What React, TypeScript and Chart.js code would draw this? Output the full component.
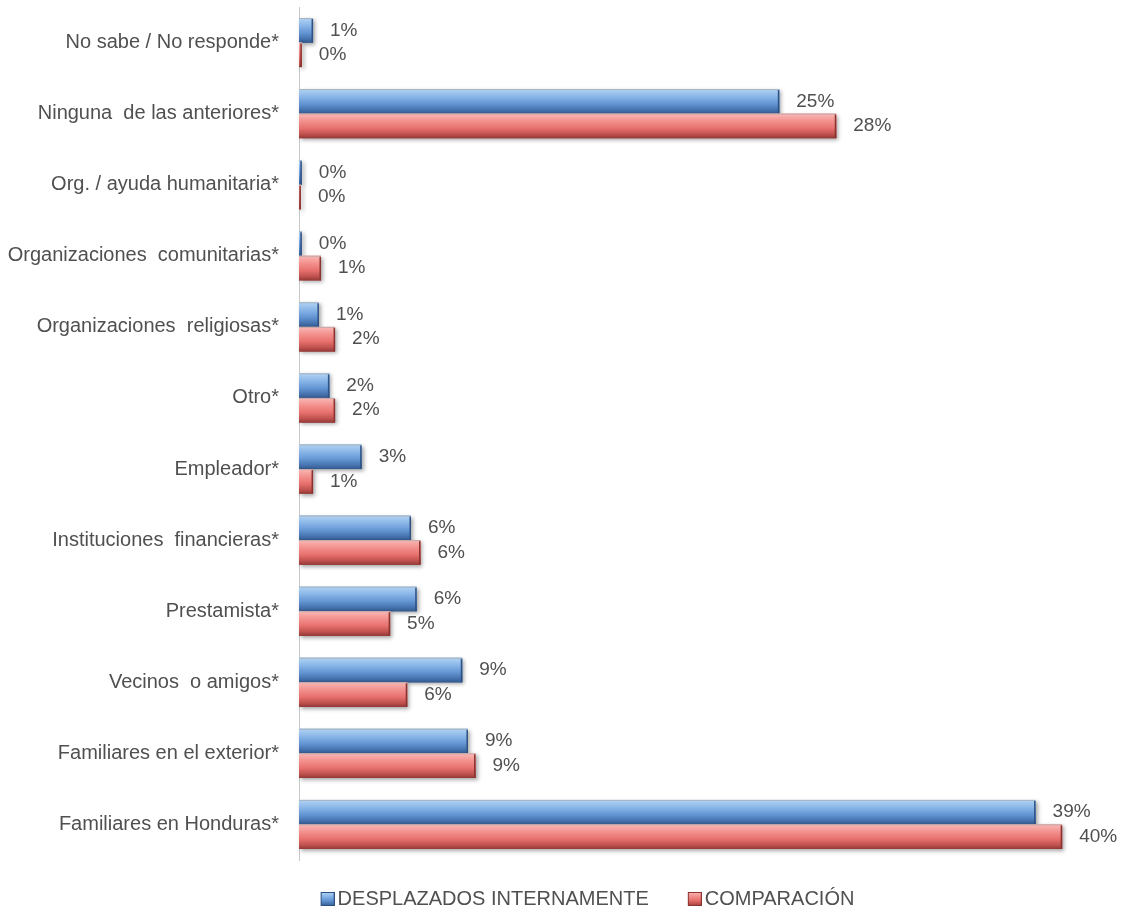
import React, { useEffect, useRef } from 'react';
import { Chart, registerables } from 'chart.js';

Chart.register(...registerables);

// ---- data ----
const categories = [
  'No sabe / No responde*',
  'Ninguna  de las anteriores*',
  'Org. / ayuda humanitaria*',
  'Organizaciones  comunitarias*',
  'Organizaciones  religiosas*',
  'Otro*',
  'Empleador*',
  'Instituciones  financieras*',
  'Prestamista*',
  'Vecinos  o amigos*',
  'Familiares en el exterior*',
  'Familiares en Honduras*',
];
const desplazados = [0.74, 25.3, 0.15, 0.15, 1.05, 1.6, 3.3, 5.9, 6.2, 8.6, 8.9, 38.8];
const comparacion = [0.15, 28.3, 0.1, 1.16, 1.9, 1.9, 0.74, 6.4, 4.8, 5.7, 9.3, 40.2];
const seriesNames = ['DESPLAZADOS INTERNAMENTE', 'COMPARACIÓN'];
const xMax = 43.3;

// ---- styles ----
const FONT = '"Liberation Sans", Arial, Helvetica, sans-serif';
const TEXT_COLOR = '#505050';
const gradients: Array<Array<[number, string]>> = [
  [
    [0, '#b3d4f3'],
    [0.3, '#8ab6e8'],
    [0.6, '#6496d4'],
    [0.85, '#4572ae'],
    [1, '#33598e'],
  ],
  [
    [0, '#f9b9b7'],
    [0.3, '#f3918e'],
    [0.6, '#e7706d'],
    [0.85, '#bd504d'],
    [1, '#933937'],
  ],
];
const solidColors = ['#6496d4', '#e7706d'];
const edgeColors = ['#2e5283', '#8a3331'];

function makeLegendImage(idx: number): HTMLCanvasElement {
  const c = document.createElement('canvas');
  c.width = 31;
  c.height = 14;
  const g = c.getContext('2d')!;
  const grad = g.createLinearGradient(0, 0, 0, 14);
  gradients[idx].forEach(([o, col]) => grad.addColorStop(o, col));
  g.fillStyle = grad;
  g.fillRect(17, 0, 14, 14);
  g.strokeStyle = edgeColors[idx];
  g.lineWidth = 1;
  g.strokeRect(17.5, 0.5, 13, 13);
  return c;
}

const barStylePlugin = {
  id: 'barStyle',
  afterDatasetsDraw(chart: any) {
    const ctx = chart.ctx as CanvasRenderingContext2D;
    chart.data.datasets.forEach((_ds: any, di: number) => {
      const meta = chart.getDatasetMeta(di);
      meta.data.forEach((el: any) => {
        const { x, y, base, height } = el.getProps(['x', 'y', 'base', 'height'], true);
        const left = Math.min(x, base);
        const w = Math.abs(x - base);
        const top = y - height / 2;
        const grad = ctx.createLinearGradient(0, top, 0, top + height);
        gradients[di].forEach(([o, col]) => grad.addColorStop(o, col));
        ctx.save();
        ctx.shadowColor = 'rgba(0,0,0,0.35)';
        ctx.shadowBlur = 4;
        ctx.shadowOffsetX = 2;
        ctx.shadowOffsetY = 2;
        ctx.fillStyle = grad;
        ctx.fillRect(left, top, w, height);
        ctx.restore();
        ctx.save();
        ctx.fillStyle = grad;
        ctx.fillRect(left, top, w, height);
        ctx.fillStyle = 'rgba(160,160,160,0.6)';
        ctx.fillRect(left, top, w, 1);
        ctx.fillStyle = edgeColors[di];
        ctx.fillRect(left + w - 1.5, top + 1, 1.5, height - 1);
        ctx.restore();
      });
    });
  },
};

const valueLabelPlugin = {
  id: 'valueLabels',
  afterDatasetsDraw(chart: any) {
    const ctx = chart.ctx as CanvasRenderingContext2D;
    ctx.save();
    ctx.font = `19px ${FONT}`;
    ctx.fillStyle = TEXT_COLOR;
    ctx.textAlign = 'left';
    ctx.textBaseline = 'middle';
    chart.data.datasets.forEach((ds: any, di: number) => {
      const meta = chart.getDatasetMeta(di);
      meta.data.forEach((el: any, i: number) => {
        const { x, y } = el.getProps(['x', 'y'], true);
        ctx.fillText(`${Math.round(ds.data[i])}%`, x + 17, y);
      });
    });
    ctx.restore();
  },
};

export default function App() {
  const ref = useRef<HTMLCanvasElement>(null);

  useEffect(() => {
    document.body.style.margin = '0';
    const canvas = ref.current!;
    const legendImgs = [makeLegendImage(0), makeLegendImage(1)];
    const chart = new Chart(canvas, {
      type: 'bar',
      data: {
        labels: categories,
        datasets: [
          {
            label: seriesNames[0],
            data: desplazados,
            backgroundColor: solidColors[0],
            borderWidth: 0,
            categoryPercentage: 0.69,
            barPercentage: 1,
          },
          {
            label: seriesNames[1],
            data: comparacion,
            backgroundColor: solidColors[1],
            borderWidth: 0,
            categoryPercentage: 0.69,
            barPercentage: 1,
          },
        ],
      },
      options: {
        indexAxis: 'y',
        animation: false,
        responsive: false,
        devicePixelRatio: 1,
        layout: { autoPadding: false, padding: { top: 7, left: 0, right: -44, bottom: -7 } },
        scales: {
          x: {
            display: false,
            min: 0,
            max: xMax,
          },
          y: {
            grid: { display: true, color: 'rgba(0,0,0,0)', drawTicks: false },
            border: { display: true, color: '#c9c9c9', width: 1 },
            ticks: {
              font: { family: FONT, size: 20 },
              color: TEXT_COLOR,
              padding: 20,
            },
            afterFit: (scale: any) => {
              scale.width = 299;
              scale.paddingTop = 0;
              scale.paddingBottom = 0;
            },
          },
        },
        plugins: {
          tooltip: { enabled: false },
          legend: {
            position: 'bottom',
            labels: {
              font: { family: FONT, size: 20 },
              color: TEXT_COLOR,
              usePointStyle: true,
              pointStyleWidth: 17,
              padding: 29,
              generateLabels: (ch: any) =>
                ch.data.datasets.map((ds: any, i: number) => ({
                  text: ds.label,
                  fillStyle: solidColors[i],
                  strokeStyle: solidColors[i],
                  lineWidth: 0,
                  pointStyle: legendImgs[i],
                  hidden: false,
                  datasetIndex: i,
                  fontColor: TEXT_COLOR,
                })),
            },
          },
        },
      },
      plugins: [barStylePlugin, valueLabelPlugin],
    });
    return () => chart.destroy();
  }, []);

  return (
    <div style={{ width: 1121, height: 912 }}>
      <canvas ref={ref} width={1121} height={912} style={{ display: 'block' }} />
    </div>
  );
}
